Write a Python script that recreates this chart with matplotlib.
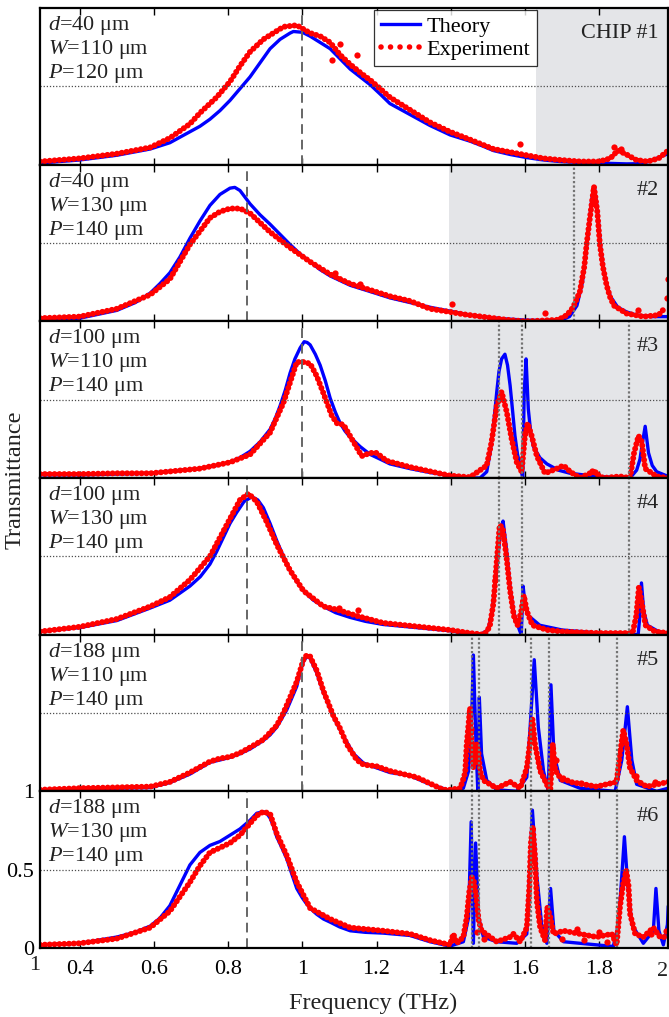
import matplotlib
matplotlib.use("Agg")
import matplotlib.pyplot as plt
from matplotlib.lines import Line2D

plt.rcParams['font.family'] = ['Liberation Serif', 'DejaVu Serif']
plt.rcParams['mathtext.fontset'] = 'custom'
plt.rcParams['mathtext.rm'] = 'Liberation Serif'
plt.rcParams['mathtext.it'] = 'Liberation Serif:italic'

# ---------------- data ----------------
xticks = [0.4, 0.6, 0.8, 1.0, 1.2, 1.4, 1.6, 1.8]
xtick_labels = ["0.4", "0.6", "0.8", "1", "1.2", "1.4", "1.6", "1.8"]

chip_d = [40, 40, 100, 100, 188, 188]
chip_W = [110, 130, 110, 130, 110, 130]
chip_P = [120, 140, 140, 140, 140, 140]
chip_names = ["CHIP #1", "#2", "#3", "#4", "#5", "#6"]
fund_freq = [1.0, 0.85, 1.0, 0.85, 1.0, 0.85]
gray_start = [1.629, 1.395, 1.395, 1.395, 1.395, 1.395]
mode_lines = [[], [1.732], [1.530, 1.592, 1.881], [1.530, 1.592, 1.881],
              [1.457, 1.475, 1.616, 1.665, 1.848], [1.457, 1.475, 1.616, 1.665, 1.848]]

# Panel 1
th1_f = [0.293, 0.4, 0.5, 0.59, 0.643, 0.697, 0.724, 0.751, 0.778, 0.805, 0.832, 0.859, 0.886, 0.913,
         0.94, 0.967, 0.976, 1.0, 1.021, 1.048, 1.075, 1.102, 1.129, 1.156, 1.183, 1.21, 1.236, 1.263,
         1.29, 1.317, 1.344, 1.371, 1.398, 1.425, 1.452, 1.485, 1.515, 1.56, 1.605, 1.65, 1.695,
         1.74, 1.784, 1.83, 1.874, 1.9, 1.919, 1.94, 1.964, 1.986]
th1_T = [0.01, 0.03, 0.06, 0.10, 0.14, 0.21, 0.245, 0.29, 0.345, 0.41, 0.485, 0.56, 0.65, 0.74,
         0.80, 0.84, 0.85, 0.845, 0.82, 0.78, 0.74, 0.675, 0.61, 0.56, 0.51, 0.45, 0.39, 0.355,
         0.32, 0.285, 0.25, 0.22, 0.19, 0.17, 0.15, 0.12, 0.09, 0.065, 0.045, 0.03, 0.02,
         0.015, 0.012, 0.008, 0.005, 0.006, 0.01, 0.025, 0.05, 0.07]
ex1_f = [0.293, 0.4, 0.5, 0.59, 0.643, 0.697, 0.724, 0.769, 0.805, 0.832, 0.859, 0.895, 0.949, 0.985,
         1.021, 1.048, 1.075, 1.102, 1.129, 1.16, 1.183, 1.236, 1.29, 1.344, 1.398, 1.452, 1.515,
         1.56, 1.605, 1.65, 1.695, 1.75, 1.8, 1.83, 1.85, 1.87, 1.9, 1.93, 1.96, 1.986]
ex1_T = [0.02, 0.04, 0.07, 0.11, 0.17, 0.26, 0.33, 0.43, 0.53, 0.63, 0.72, 0.80, 0.88, 0.89,
         0.84, 0.82, 0.78, 0.70, 0.64, 0.58, 0.54, 0.43, 0.35, 0.27, 0.21, 0.16, 0.10,
         0.08, 0.06, 0.04, 0.03, 0.02, 0.02, 0.04, 0.09, 0.07, 0.03, 0.02, 0.04, 0.09]
ex1_out_f = [1.079, 1.102, 1.147, 1.587, 1.84, 1.86]
ex1_out_T = [0.67, 0.77, 0.70, 0.13, 0.11, 0.10]

# Panel 2
th2_f = [0.293, 0.4, 0.5, 0.55, 0.59, 0.616, 0.643, 0.67, 0.697, 0.724, 0.751, 0.778, 0.805, 0.818,
         0.832, 0.859, 0.886, 0.913, 0.94, 0.967, 0.994, 1.021, 1.048, 1.075, 1.102, 1.129, 1.156,
         1.183, 1.236, 1.29, 1.344, 1.398, 1.452, 1.5, 1.55, 1.6, 1.66, 1.70, 1.72, 1.74,
         1.755, 1.77, 1.78, 1.787, 1.795, 1.805, 1.815, 1.83, 1.85, 1.874, 1.9, 1.94, 1.986]
th2_T = [0.01, 0.02, 0.07, 0.12, 0.18, 0.24, 0.31, 0.41, 0.53, 0.64, 0.74, 0.81, 0.85, 0.855,
         0.835, 0.75, 0.68, 0.62, 0.555, 0.49, 0.43, 0.38, 0.33, 0.29, 0.26, 0.23, 0.21,
         0.19, 0.15, 0.12, 0.09, 0.065, 0.04, 0.025, 0.015, 0.008, 0.005, 0.01, 0.03, 0.10,
         0.25, 0.55, 0.78, 0.86, 0.72, 0.45, 0.28, 0.16, 0.09, 0.06, 0.04, 0.03, 0.03]
ex2_f = [0.293, 0.4, 0.5, 0.59, 0.643, 0.697, 0.751, 0.778, 0.805, 0.832, 0.859, 0.913, 0.967, 1.021,
         1.075, 1.129, 1.183, 1.236, 1.29, 1.344, 1.398, 1.434, 1.5, 1.55, 1.6, 1.65, 1.69, 1.713,
         1.73, 1.748, 1.76, 1.766, 1.775, 1.786, 1.795, 1.802, 1.81, 1.82, 1.83, 1.84, 1.874, 1.92,
         1.96, 1.975]
ex2_T = [0.02, 0.03, 0.08, 0.17, 0.27, 0.49, 0.66, 0.70, 0.72, 0.72, 0.69, 0.57, 0.47, 0.38,
         0.30, 0.24, 0.20, 0.16, 0.13, 0.08, 0.06, 0.045, 0.025, 0.01, 0.0, 0.005, 0.01, 0.04,
         0.09, 0.19, 0.35, 0.49, 0.66, 0.86, 0.70, 0.49, 0.35, 0.23, 0.15, 0.10, 0.05, 0.03,
         0.04, 0.08]
ex2_out_f = [1.088, 1.156, 1.403, 1.654, 1.905, 1.984, 1.986]
ex2_out_T = [0.31, 0.24, 0.11, 0.05, 0.07, 0.15, 0.27]

# Panel 3
th3_f = [0.293, 0.4, 0.5, 0.59, 0.65, 0.724, 0.77, 0.805, 0.832, 0.859, 0.886, 0.913, 0.927, 0.94,
         0.954, 0.967, 0.98, 0.994, 1.005, 1.013, 1.021, 1.035, 1.048, 1.062, 1.075, 1.089, 1.102,
         1.115, 1.129, 1.156, 1.183, 1.21, 1.236, 1.29, 1.344, 1.398, 1.434, 1.479, 1.497, 1.506,
         1.515, 1.524, 1.53, 1.537, 1.546, 1.553, 1.56, 1.567, 1.573, 1.58, 1.587, 1.594, 1.598,
         1.603, 1.609, 1.616, 1.623, 1.64, 1.659, 1.69, 1.722, 1.793, 1.883, 1.901, 1.91, 1.915,
         1.924, 1.933, 1.943, 1.955, 1.986]
th3_T = [0.02, 0.02, 0.025, 0.03, 0.045, 0.06, 0.08, 0.10, 0.13, 0.17, 0.23, 0.31, 0.38, 0.46,
         0.56, 0.67, 0.76, 0.83, 0.87, 0.865, 0.85, 0.79, 0.72, 0.62, 0.51, 0.42, 0.35,
         0.30, 0.26, 0.20, 0.15, 0.12, 0.09, 0.06, 0.035, 0.015, 0.0, 0.0, 0.04, 0.16,
         0.33, 0.55, 0.68, 0.76, 0.79, 0.72, 0.59, 0.42, 0.27, 0.15, 0.08, 0.0, 0.55,
         0.76, 0.44, 0.28, 0.20, 0.13, 0.09, 0.05, 0.03, 0.01, 0.0, 0.05, 0.12, 0.20,
         0.33, 0.16, 0.08, 0.04, 0.01]
ex3_f = [0.293, 0.4, 0.5, 0.59, 0.724, 0.805, 0.859, 0.913, 0.949, 0.967, 0.985, 1.003, 1.021, 1.039,
         1.057, 1.079, 1.093, 1.111, 1.138, 1.16, 1.183, 1.2, 1.227, 1.29, 1.398, 1.452, 1.497,
         1.51, 1.524, 1.537, 1.551, 1.564, 1.578, 1.591, 1.6, 1.607, 1.618, 1.632, 1.654, 1.686,
         1.704, 1.722, 1.748, 1.784, 1.811, 1.856, 1.883, 1.894, 1.906, 1.915, 1.924, 1.955, 1.986]
ex3_T = [0.025, 0.025, 0.03, 0.03, 0.06, 0.10, 0.15, 0.29, 0.48, 0.61, 0.74, 0.74, 0.73, 0.65,
         0.54, 0.40, 0.35, 0.34, 0.23, 0.14, 0.16, 0.16, 0.11, 0.07, 0.015, 0.005, 0.08,
         0.23, 0.46, 0.55, 0.42, 0.25, 0.10, 0.04, 0.27, 0.35, 0.27, 0.14, 0.03, 0.06,
         0.08, 0.04, 0.0, 0.04, 0.0, 0.01, 0.0, 0.16, 0.27, 0.23, 0.06, 0.01, 0.0]
ex3_out_f = [1.60, 1.78, 1.79]
ex3_out_T = [0.29, 0.045, 0.04]

# Panel 4
th4_f = [0.293, 0.4, 0.5, 0.59, 0.643, 0.697, 0.725, 0.751, 0.769, 0.787, 0.805, 0.823, 0.843, 0.864,
         0.88, 0.895, 0.913, 0.931, 0.949, 0.967, 0.985, 1.003, 1.03, 1.057, 1.09, 1.129, 1.17,
         1.218, 1.308, 1.398, 1.452, 1.48, 1.50, 1.51, 1.525, 1.535, 1.541, 1.55,
         1.56, 1.57, 1.585, 1.59, 1.595, 1.60, 1.61, 1.64, 1.70, 1.80, 1.905, 1.909, 1.914, 1.92,
         1.93, 1.96, 1.986]
th4_T = [0.02, 0.045, 0.09, 0.17, 0.22, 0.31, 0.37, 0.45, 0.53, 0.62, 0.71, 0.78, 0.85, 0.88,
         0.86, 0.81, 0.71, 0.60, 0.50, 0.41, 0.34, 0.28, 0.22, 0.18, 0.14, 0.11, 0.085,
         0.065, 0.045, 0.025, 0.005, 0.0, 0.03, 0.12, 0.45, 0.68, 0.725, 0.55,
         0.30, 0.14, 0.03, 0.0, 0.31, 0.20, 0.12, 0.06, 0.03, 0.01, 0.0, 0.10, 0.33, 0.15,
         0.06, 0.02, 0.01]
ex4_f = [0.293, 0.4, 0.5, 0.59, 0.643, 0.697, 0.733, 0.751, 0.778, 0.805, 0.832, 0.855, 0.877, 0.904,
         0.931, 0.967, 1.003, 1.057, 1.093, 1.147, 1.218, 1.398, 1.452, 1.49, 1.505, 1.515, 1.525,
         1.532, 1.54, 1.55, 1.56, 1.57, 1.58, 1.59, 1.597, 1.605, 1.62, 1.66, 1.7, 1.8, 1.89, 1.9,
         1.907, 1.915, 1.925, 1.95, 1.986]
ex4_T = [0.02, 0.05, 0.10, 0.18, 0.24, 0.35, 0.45, 0.50, 0.62, 0.74, 0.86, 0.90, 0.85, 0.72,
         0.575, 0.41, 0.28, 0.18, 0.16, 0.12, 0.075, 0.03, 0.01, 0.0, 0.05, 0.20, 0.50,
         0.70, 0.68, 0.50, 0.28, 0.12, 0.06, 0.15, 0.25, 0.15, 0.06, 0.03, 0.02, 0.01, 0.01, 0.12,
         0.30, 0.20, 0.06, 0.02, 0.01]
ex4_out_f = [1.151, 1.10, 1.52]
ex4_out_T = [0.16, 0.17, 0.35]

# Panel 5
th5_f = [0.293, 0.4, 0.5, 0.59, 0.643, 0.697, 0.751, 0.778, 0.805, 0.832, 0.859, 0.895, 0.913, 0.931,
         0.958, 0.985, 0.994, 1.003, 1.012, 1.021, 1.039, 1.057, 1.084, 1.111, 1.138, 1.165, 1.2,
         1.236, 1.29, 1.344, 1.398, 1.434, 1.448, 1.457, 1.461, 1.468, 1.473, 1.477, 1.483, 1.497,
         1.524, 1.578, 1.605, 1.614, 1.625, 1.636, 1.65, 1.663, 1.67, 1.678, 1.695, 1.748, 1.843,
         1.861, 1.876, 1.888, 1.901, 1.955, 1.986]
th5_T = [0.01, 0.015, 0.02, 0.024, 0.056, 0.11, 0.185, 0.20, 0.217, 0.24, 0.27, 0.325, 0.36, 0.41,
         0.52, 0.67, 0.76, 0.83, 0.86, 0.85, 0.755, 0.63, 0.475, 0.35, 0.24, 0.18, 0.15,
         0.12, 0.10, 0.045, 0.005, 0.02, 0.13, 0.52, 0.87, 0.30, 0.0, 0.60, 0.24, 0.07,
         0.01, 0.0, 0.09, 0.41, 0.84, 0.41, 0.13, 0.0, 0.68, 0.24, 0.07, 0.02, 0.0,
         0.20, 0.54, 0.20, 0.045, 0.0, 0.02]
ex5_f = [0.293, 0.4, 0.5, 0.59, 0.643, 0.697, 0.751, 0.778, 0.805, 0.832, 0.859, 0.895, 0.931, 0.949,
         0.967, 0.985, 1.003, 1.012, 1.021, 1.039, 1.057, 1.084, 1.102, 1.12, 1.147, 1.165, 1.2,
         1.236, 1.29, 1.308, 1.344, 1.38, 1.398, 1.425, 1.43, 1.439, 1.443, 1.448, 1.452, 1.457,
         1.461, 1.47, 1.475, 1.479, 1.488, 1.524, 1.56, 1.587, 1.605, 1.614, 1.62, 1.627, 1.632,
         1.641, 1.668, 1.675, 1.681, 1.69, 1.722, 1.793, 1.847, 1.856, 1.865, 1.874, 1.883, 1.901,
         1.928, 1.986]
ex5_T = [0.01, 0.02, 0.025, 0.03, 0.06, 0.12, 0.19, 0.21, 0.22, 0.245, 0.28, 0.33, 0.42, 0.50,
         0.60, 0.70, 0.84, 0.87, 0.86, 0.77, 0.64, 0.48, 0.40, 0.30, 0.20, 0.17, 0.16,
         0.13, 0.10, 0.09, 0.05, 0.01, 0.01, 0.02, 0.05, 0.12, 0.30, 0.43, 0.53, 0.28,
         0.15, 0.30, 0.24, 0.13, 0.07, 0.02, 0.06, 0.02, 0.15, 0.32, 0.46, 0.30, 0.24,
         0.13, 0.0, 0.30, 0.14, 0.10, 0.06, 0.03, 0.06, 0.24, 0.39, 0.30, 0.15, 0.07,
         0.03, 0.06]
ex5_out_f = [1.455, 1.465, 1.685, 1.70, 1.75, 1.9, 1.95]
ex5_out_T = [0.40, 0.20, 0.20, 0.08, 0.05, 0.10, 0.06]

# Panel 6
th6_f = [0.293, 0.4, 0.5, 0.55, 0.59, 0.616, 0.643, 0.67, 0.697, 0.724, 0.751, 0.778, 0.805, 0.832,
         0.859, 0.877, 0.895, 0.904, 0.913, 0.922, 0.931, 0.945, 0.958, 0.972, 0.985, 1.0, 1.012,
         1.025, 1.039, 1.057, 1.075, 1.1, 1.129, 1.17, 1.218, 1.29, 1.344,
         1.398, 1.434, 1.448, 1.455, 1.461, 1.467, 1.475, 1.488, 1.524, 1.578, 1.605, 1.612, 1.62,
         1.632, 1.645, 1.659, 1.669, 1.678, 1.704, 1.838, 1.852, 1.861, 1.868, 1.877, 1.888, 1.919,
         1.946, 1.953, 1.961, 1.973, 1.984, 1.986]
th6_T = [0.02, 0.03, 0.07, 0.10, 0.14, 0.19, 0.27, 0.40, 0.53, 0.61, 0.655, 0.68, 0.72, 0.76,
         0.815, 0.86, 0.87, 0.86, 0.83, 0.78, 0.71, 0.64, 0.57, 0.47, 0.38, 0.32, 0.28,
         0.245, 0.215, 0.185, 0.165, 0.135, 0.11, 0.10, 0.095, 0.08, 0.04,
         0.012, 0.04, 0.195, 0.805, 0.03, 0.67, 0.195, 0.07, 0.04, 0.03, 0.09, 0.46, 0.88,
         0.46, 0.15, 0.03, 0.38, 0.11, 0.04, 0.01, 0.15, 0.46, 0.71, 0.40, 0.15, 0.03,
         0.11, 0.38, 0.11, 0.02, 0.15, 0.26]
ex6_f = [0.293, 0.4, 0.5, 0.59, 0.643, 0.697, 0.724, 0.751, 0.778, 0.805, 0.832, 0.859, 0.877, 0.895,
         0.913, 0.931, 0.958, 0.985, 1.021, 1.075, 1.129, 1.218, 1.29, 1.344, 1.398, 1.407, 1.416,
         1.434, 1.443, 1.45, 1.457, 1.463, 1.468, 1.475, 1.483, 1.524, 1.56, 1.569, 1.587, 1.605,
         1.612, 1.616, 1.621, 1.627, 1.632, 1.641, 1.654, 1.66, 1.668, 1.677, 1.704, 1.748, 1.793,
         1.834, 1.847, 1.856, 1.864, 1.873, 1.879, 1.883, 1.897, 1.919, 1.946, 1.964, 1.986]
ex6_T = [0.02, 0.03, 0.06, 0.13, 0.235, 0.42, 0.525, 0.61, 0.64, 0.67, 0.72, 0.795, 0.845, 0.87,
         0.857, 0.73, 0.59, 0.42, 0.255, 0.185, 0.13, 0.11, 0.09, 0.05, 0.02, 0.09, 0.03,
         0.07, 0.195, 0.36, 0.45, 0.42, 0.34, 0.18, 0.11, 0.04, 0.07, 0.09, 0.04, 0.13,
         0.40, 0.67, 0.775, 0.59, 0.30, 0.13, 0.05, 0.26, 0.20, 0.09, 0.11, 0.09, 0.07,
         0.09, 0.02, 0.26, 0.40, 0.495, 0.40, 0.22, 0.09, 0.07, 0.13, 0.07, 0.07]
ex6_out_f = [1.47, 1.49, 1.70, 1.74, 1.76, 1.80, 1.82, 1.94, 1.98]
ex6_out_T = [0.10, 0.06, 0.06, 0.12, 0.05, 0.10, 0.04, 0.09, 0.11]

th_f = [th1_f, th2_f, th3_f, th4_f, th5_f, th6_f]
th_T = [th1_T, th2_T, th3_T, th4_T, th5_T, th6_T]
ex_f = [ex1_f, ex2_f, ex3_f, ex4_f, ex5_f, ex6_f]
ex_T = [ex1_T, ex2_T, ex3_T, ex4_T, ex5_T, ex6_T]
out_f = [ex1_out_f, ex2_out_f, ex3_out_f, ex4_out_f, ex5_out_f, ex6_out_f]
out_T = [ex1_out_T, ex2_out_T, ex3_out_T, ex4_out_T, ex5_out_T, ex6_out_T]

# ---------------- figure ----------------
W, H = 669, 1017
fig = plt.figure(figsize=(W / 100, H / 100), dpi=100)
left_px, right_px, top_px, bot_px = 40, 668, 8, 948
n = 6
ph = (bot_px - top_px) / n
FS = 16
gray = '#e4e5e8'

axes = []
for i in range(n):
    y0 = 1 - (top_px + (i + 1) * ph) / H
    ax = fig.add_axes([left_px / W, y0, (right_px - left_px) / W, ph / H])
    axes.append(ax)
    ax.set_xlim(0.293, 1.9855)
    ax.set_ylim(0, 1)
    ax.axvspan(gray_start[i], 2.1, color=gray, zorder=0, lw=0)
    ax.axhline(0.5, color='0.3', lw=0.9, ls=(0, (1, 1.5)), zorder=5)
    ax.axvline(fund_freq[i], color='0.4', lw=1.4, ls=(0, (5, 3)), zorder=5)
    for m in mode_lines[i]:
        ax.axvline(m, color='0.45', lw=1.6, ls=(0, (1, 1.0)), zorder=5)
    ax.plot(th_f[i], th_T[i], color='#0000ff', lw=2.4, zorder=3, solid_joinstyle='round')
    ax.plot(ex_f[i], ex_T[i], color='#ff0000', lw=4.3, ls=(0, (0.01, 0.8)),
            dash_capstyle='round', zorder=4)
    ax.plot(out_f[i], out_T[i], 'o', color='#ff0000', ms=4.5, mec='none', zorder=4)

    ax.set_xticks(xticks)
    ax.tick_params(axis='x', direction='in', top=True, bottom=True, length=5, width=1,
                   labelsize=FS, pad=9)
    ax.tick_params(axis='y', length=0, labelsize=FS, pad=4)
    if i < n - 1:
        ax.set_xticklabels([])
        ax.set_yticks([])
    else:
        ax.set_xticklabels(xtick_labels)
        ax.set_yticks([0, 0.5, 1])
        ax.set_yticklabels(["0", "0.5", "1"])
    for s in ax.spines.values():
        s.set_linewidth(1.6)
        s.set_zorder(6)

    off = [22, 46, 70]
    txts = [r"$d$=%d μm" % chip_d[i], r"$W$=%d μm" % chip_W[i], r"$P$=%d μm" % chip_P[i]]
    for t, o in zip(txts, off):
        ax.text(8 / (right_px - left_px), 1 - o / ph, t, transform=ax.transAxes,
                fontsize=FS, va='baseline', ha='left', color='#222222', zorder=7)
    ax.text(1 - 9 / (right_px - left_px), 1 - 30 / ph, chip_names[i], transform=ax.transAxes,
            fontsize=FS, va='baseline', ha='right', color='#222222', zorder=7)

# legend in first panel
handles = [Line2D([], [], color='#0000ff', lw=2.4),
           Line2D([], [], color='#ff0000', lw=4, ls=(0, (0.01, 1.7)), dash_capstyle='round')]
leg = axes[0].legend(handles, ["Theory", "Experiment"], loc='upper left',
                     bbox_to_anchor=((374 - left_px) / (right_px - left_px), 1 - 1.5 / ph),
                     borderaxespad=0, fontsize=FS, frameon=True, fancybox=False,
                     handlelength=1.75, handletextpad=0.3, labelspacing=0.1, borderpad=0.3)
leg.get_frame().set_edgecolor('black')
leg.get_frame().set_linewidth(0.9)
leg.set_zorder(10)

# extra tick labels at the edges, as in the reference
fig.text(35 / W, 1 - 966 / H, "1", fontsize=FS, ha='center', va='center', color='#222222')
fig.text(668.5 / W, 1 - 971 / H, "2", fontsize=FS, ha='right', va='center', color='#222222')

fig.text(15 / W, 1 - 480 / H, "Transmittance", rotation=90, fontsize=17.5,
         ha='center', va='center', color='#222222')
fig.text(373 / W, 1 - 1003 / H, "Frequency (THz)", fontsize=17.5,
         ha='center', va='center', color='#222222')

fig.savefig("out.png", dpi=100)
